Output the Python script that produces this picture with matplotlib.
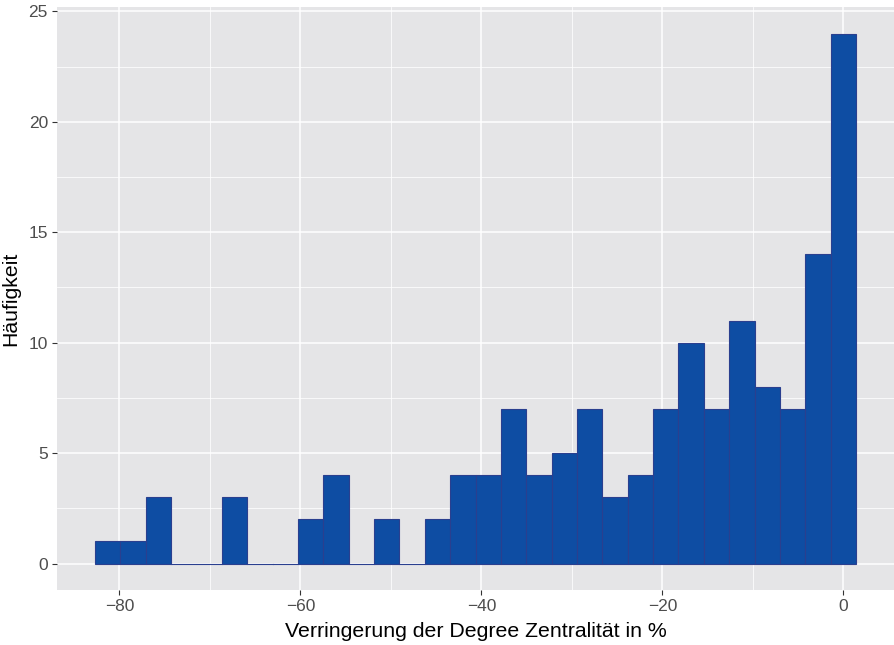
import numpy as np
import matplotlib.pyplot as plt
from matplotlib.ticker import MultipleLocator

# histogram counts, 30 bins (left to right)
counts = [1, 1, 3, 0, 0, 3, 0, 0, 2, 4,
          0, 2, 0, 2, 4, 4, 7, 4, 5, 7,
          3, 4, 7, 10, 7, 11, 8, 7, 14, 24]
x_min, x_max = -81.3, 0.0
x_label = "Verringerung der Degree Zentralität in %"
y_label = "Häufigkeit"

plt.rcParams['font.family'] = ['Liberation Sans', 'DejaVu Sans']

n = len(counts)
width = (x_max - x_min) / (n - 1)
edges = x_min - width / 2 + width * np.arange(n + 1)

fig = plt.figure(figsize=(8.94, 6.45), dpi=100)
ax = fig.add_axes([57 / 894, 55 / 645, 837 / 894, 583 / 645])
ax.set_facecolor('#E5E5E7')
bars = ax.bar(edges[:-1], counts, width=width, align='edge',
              color='#0E4DA3', edgecolor='#2A3F8F', linewidth=0.8, zorder=3)
for b in bars:
    b.set_capstyle('projecting')
    b.set_joinstyle('miter')

lo, hi = edges[0], edges[-1]
pad = 0.05 * (hi - lo)
ax.set_xlim(lo - pad, hi + pad)
ax.set_ylim(-0.05 * max(counts), max(counts) * 1.05)

ax.xaxis.set_major_locator(MultipleLocator(20))
ax.xaxis.set_minor_locator(MultipleLocator(10))
ax.yaxis.set_major_locator(MultipleLocator(5))
ax.yaxis.set_minor_locator(MultipleLocator(2.5))
ax.grid(which='major', color='white', linewidth=1.1, zorder=0)
ax.grid(which='minor', color='white', linewidth=0.55, zorder=0)
ax.set_axisbelow(True)
for s in ax.spines.values():
    s.set_visible(False)

ax.tick_params(which='major', length=3.5, width=0.8, color='#333333',
               labelsize=12.5, labelcolor='#4D4D4D', pad=3)
ax.tick_params(which='minor', length=0)
ax.xaxis.set_major_formatter(plt.FuncFormatter(lambda v, p: f"{v:.0f}".replace('-', '\u2212')))

ax.set_xlabel(x_label, fontsize=15.3, color='black', labelpad=6)
ax.set_ylabel(y_label, fontsize=15.3, color='black', labelpad=6)

fig.savefig('out.png', dpi=100)
